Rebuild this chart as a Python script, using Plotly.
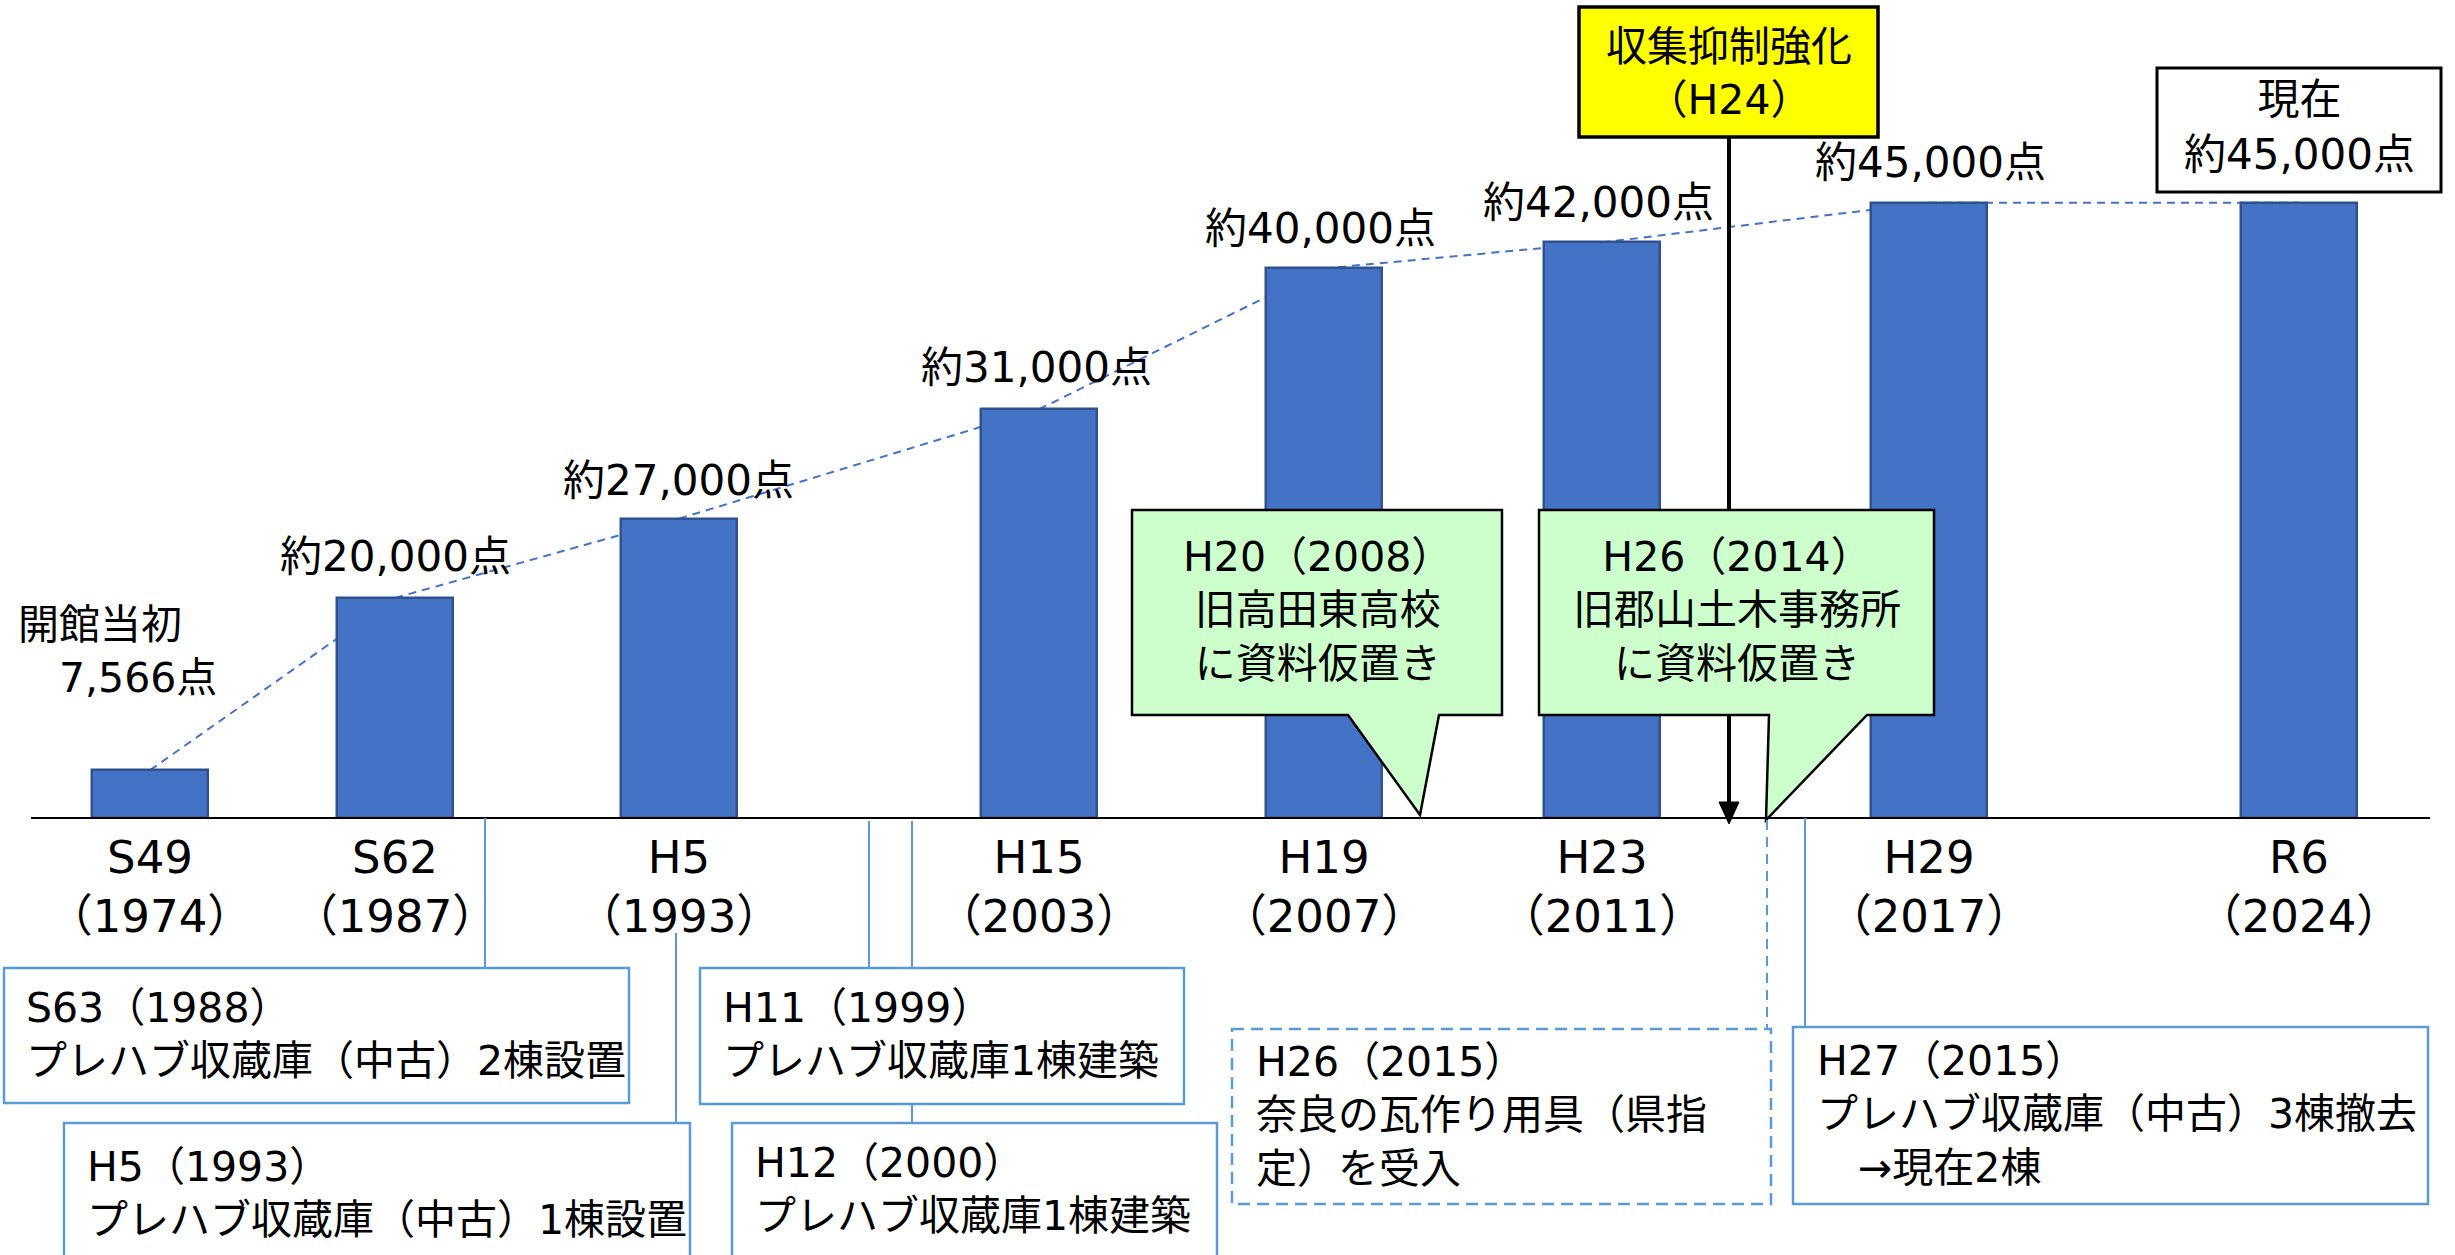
import plotly.graph_objects as go

W, H = 2455, 1255

# ---------------- data ----------------
categories = ["S49", "S62", "H5", "H15", "H19", "H23", "H29", "R6"]
years = ["1974", "1987", "1993", "2003", "2007", "2011", "2017", "2024"]
# bar heights as drawn in the picture (thousand items, illustrative scale)
bar_height = [3.5, 16.1, 21.9, 29.9, 40.2, 42.1, 45.0, 45.0]
count_labels = ["7,566点", "約20,000点", "約27,000点", "約31,000点",
                "約40,000点", "約42,000点", "約45,000点", "約45,000点"]
first_label = "開館当初"
current_label = "現在"

policy_lines = ["収集抑制強化", "（H24）"]
callout_texts = [
    ["H20（2008）", "旧高田東高校", "に資料仮置き"],
    ["H26（2014）", "旧郡山土木事務所", "に資料仮置き"],
]
event_texts = [
    ["S63（1988）", "プレハブ収蔵庫（中古）2棟設置"],
    ["H5（1993）", "プレハブ収蔵庫（中古）1棟設置"],
    ["H11（1999）", "プレハブ収蔵庫1棟建築"],
    ["H12（2000）", "プレハブ収蔵庫1棟建築"],
    ["H26（2015）", "奈良の瓦作り用具（県指", "定）を受入"],
    ["H27（2015）", "プレハブ収蔵庫（中古）3棟撤去", "　→現在2棟"],
]

# ---------------- layout constants (pixels) ----------------
bar_pos = [150, 395, 679, 1039, 1324, 1602, 1929, 2299]
BAR_W = 116
BASE = 818            # baseline pixel row
K = 13.67             # pixels per unit
X0, X1 = 31, 2430     # axis line extent

BLUE = "#4472C4"
BLUE_EDGE = "#2F528F"
LBLUE = "#5B9BD5"
FONT = "DejaVu Sans, Noto Sans CJK JP"
TXT = 41


def X(p):
    return p / W


def Y(p):
    return 1 - p / H


fig = go.Figure()

fig.add_trace(go.Bar(
    x=bar_pos, y=bar_height, width=BAR_W,
    marker=dict(color=BLUE, line=dict(color=BLUE_EDGE, width=2.5)),
    hoverinfo="skip", showlegend=False,
))

shapes = []
annotations = []


def note(x, y, text, size=TXT, xanchor="center", align="center"):
    annotations.append(dict(x=X(x), y=Y(y), xref="paper", yref="paper",
                            text=text, showarrow=False, xanchor=xanchor,
                            yanchor="middle", align=align,
                            font=dict(family=FONT, size=size, color="black")))


# dashed trend line between bar tops (drawn below bars)
for i in range(len(bar_pos) - 1):
    shapes.append(dict(type="line", xref="x", yref="y", layer="below",
                       x0=bar_pos[i], y0=bar_height[i],
                       x1=bar_pos[i + 1], y1=bar_height[i + 1],
                       line=dict(color=BLUE, width=2, dash="8px,6px")))

# count labels above bars
count_label_xy = [None, (395, 556), (678, 480), (1036, 368),
                  (1320, 228), (1598, 202), (1930, 162), None]
for i, xy in enumerate(count_label_xy):
    if xy is None:
        continue
    note(xy[0], xy[1], count_labels[i], size=42)

# first label (second line indented by one full-width space)
note(16, 651, first_label + "<br>　" + count_labels[0], size=41,
     xanchor="left", align="left")

# current box
shapes.append(dict(type="rect", xref="paper", yref="paper",
                   x0=X(2157), x1=X(2441), y0=Y(68), y1=Y(192),
                   fillcolor="white", line=dict(color="black", width=3)))
note(2299, 127, current_label + "<br>" + count_labels[7], size=42)

# vertical arrow from policy box
AX = 1729
shapes.append(dict(type="line", xref="paper", yref="paper",
                   x0=X(AX), x1=X(AX), y0=Y(137), y1=Y(806),
                   line=dict(color="black", width=4)))
shapes.append(dict(type="path", xref="paper", yref="paper",
                   path=f"M {X(AX-10)},{Y(802)} L {X(AX+10)},{Y(802)} L {X(AX)},{Y(824)} Z",
                   fillcolor="black", line=dict(color="black", width=1)))

# policy (yellow) box
shapes.append(dict(type="rect", xref="paper", yref="paper",
                   x0=X(1579), x1=X(1878), y0=Y(7), y1=Y(137),
                   fillcolor="#FFFF00", line=dict(color="black", width=3.5)))
note(AX, 73, "<br>".join(policy_lines), size=41)

# green callouts
callout_geo = [
    (1132, 1502, 510, 715, 1348, 1439, (1420, 815)),
    (1539, 1934, 510, 715, 1769, 1867, (1766, 820)),
]
for (l, r, t, b, bl, br, tip), lines in zip(callout_geo, callout_texts):
    path = (f"M {X(l)},{Y(t)} L {X(r)},{Y(t)} L {X(r)},{Y(b)} L {X(br)},{Y(b)} "
            f"L {X(tip[0])},{Y(tip[1])} L {X(bl)},{Y(b)} L {X(l)},{Y(b)} Z")
    shapes.append(dict(type="path", xref="paper", yref="paper", path=path,
                       fillcolor="#CCFFCC", line=dict(color="black", width=2.5)))
    note((l + r) / 2, 611, "<br>".join(lines))

# connectors for event boxes
connectors = [
    (485, 818, 968, "solid"),
    (676, 933, 1123, "solid"),
    (869, 821, 968, "solid"),
    (912, 821, 1123, "solid"),
    (1767, 820, 1029, "10px,7px"),
    (1805, 818, 1027, "solid"),
]
for x, y0, y1, d in connectors:
    shapes.append(dict(type="line", xref="paper", yref="paper",
                       x0=X(x), x1=X(x), y0=Y(y0), y1=Y(y1),
                       line=dict(color=LBLUE, width=2, dash=d)))

# event boxes
event_geo = [
    (4, 629, 968, 1103, 24, 1008, "solid"),
    (64, 690, 1123, 1262, 85, 1167, "solid"),
    (700, 1184, 968, 1104, 721, 1008, "solid"),
    (732, 1217, 1123, 1262, 753, 1163, "solid"),
    (1232, 1771, 1029, 1204, 1254, 1063, "12px,7px"),
    (1793, 2428, 1027, 1204, 1815, 1062, "solid"),
]
for (l, r, t, b, tx, ty, d), lines in zip(event_geo, event_texts):
    shapes.append(dict(type="rect", xref="paper", yref="paper",
                       x0=X(l), x1=X(r), y0=Y(t), y1=Y(b),
                       fillcolor="white", line=dict(color=LBLUE, width=2.5, dash=d)))
    mid = ty + 52 * (len(lines) - 1) / 2
    note(tx, mid, "<br>".join(lines), xanchor="left", align="left")

tick_text = [f"{c}<br>（{y}）" for c, y in zip(categories, years)]

fig.update_layout(
    width=W, height=H,
    margin=dict(l=0, r=0, t=0, b=0),
    paper_bgcolor="white", plot_bgcolor="rgba(0,0,0,0)",
    showlegend=False,
    bargap=0,
    xaxis=dict(domain=[X(X0), X(X1)], range=[X0, X1], anchor="free",
               position=Y(BASE), showgrid=False, zeroline=False,
               showline=True, linecolor="black", linewidth=2,
               tickvals=bar_pos, ticktext=tick_text, ticks="",
               ticklabelstandoff=0,
               tickfont=dict(family=FONT, size=45, color="black")),
    yaxis=dict(domain=[0, 1], range=[-(H - BASE) / K, BASE / K],
               visible=False, showgrid=False, zeroline=False),
    shapes=shapes,
    annotations=annotations,
)

fig.write_html("out.html")
